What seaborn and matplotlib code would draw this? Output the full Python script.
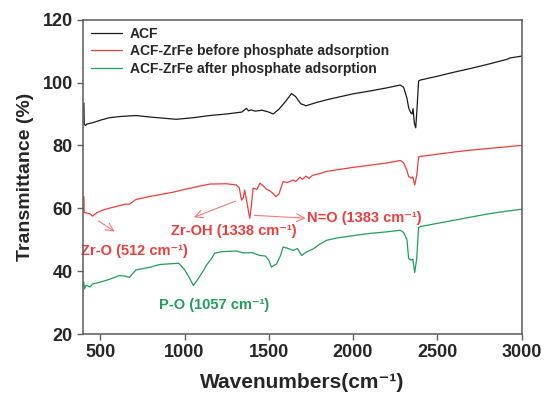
import matplotlib
matplotlib.use("Agg")
import matplotlib.pyplot as plt
import seaborn as sns
import pandas as pd

# ---------------- data (wavenumber, transmittance) ----------------
acf = [(403, 93.5), (405, 86.8), (412, 86.3), (420, 86.8), (454, 87.2), (500, 88.0),
       (553, 88.8), (620, 89.2), (712, 89.5), (800, 89.0), (951, 88.3), (1050, 88.8),
       (1149, 89.5), (1250, 90.0), (1340, 90.6), (1367, 91.8), (1380, 91.0), (1395, 91.3),
       (1420, 90.9), (1460, 91.2), (1500, 90.6), (1526, 90.0), (1560, 91.5), (1600, 94.0),
       (1635, 96.5), (1660, 95.5), (1690, 93.2), (1704, 93.0), (1720, 92.6), (1744, 93.0),
       (1780, 93.6), (1843, 94.5), (1900, 95.2), (2000, 96.4), (2100, 97.3), (2200, 98.3),
       (2280, 99.2), (2300, 98.5), (2320, 95.0), (2330, 92.0), (2342, 90.4), (2350, 90.0),
       (2356, 91.7), (2364, 87.0), (2372, 85.6), (2380, 92.0), (2389, 100.5), (2400, 100.8),
       (2500, 102.0), (2600, 103.3), (2700, 104.5), (2800, 105.8), (2915, 107.4),
       (2930, 107.8), (3000, 108.4)]

before = [(403, 63.7), (405, 58.6), (412, 58.6), (440, 58.2), (454, 57.5), (480, 58.6),
          (514, 59.4), (560, 60.1), (650, 61.3), (673, 61.3), (712, 62.8), (800, 63.8),
          (931, 65.1), (1050, 66.6), (1149, 67.7), (1250, 67.8), (1308, 67.4), (1325, 66.5),
          (1338, 62.6), (1350, 63.5), (1357, 65.8), (1370, 62.0), (1387, 56.8), (1395, 60.0),
          (1407, 66.4), (1430, 66.0), (1447, 68.0), (1470, 67.0), (1486, 66.1), (1510, 65.4),
          (1530, 64.5), (1542, 63.7), (1560, 64.5), (1585, 68.5), (1610, 68.2), (1645, 69.0),
          (1660, 68.5), (1685, 69.9), (1700, 69.2), (1720, 70.2), (1740, 69.5), (1760, 70.5),
          (1800, 71.0), (1843, 71.7), (1900, 72.2), (2000, 73.0), (2100, 73.7), (2200, 74.4),
          (2280, 75.2), (2300, 74.5), (2320, 72.0), (2330, 70.1), (2345, 69.6), (2355, 70.0),
          (2366, 67.4), (2378, 70.5), (2389, 76.3), (2400, 76.5), (2500, 77.2), (2600, 77.9),
          (2700, 78.5), (2800, 79.0), (2900, 79.5), (3000, 80.0)]

after = [(403, 36.4), (406, 34.3), (415, 35.5), (440, 35.0), (454, 35.9), (500, 36.5),
         (560, 37.5), (613, 38.6), (650, 38.4), (673, 38.0), (712, 40.4), (800, 41.3),
         (851, 42.1), (900, 42.3), (966, 42.5), (1000, 40.5), (1030, 37.8), (1053, 35.4),
         (1080, 37.5), (1110, 40.0), (1129, 41.8), (1160, 44.0), (1179, 45.7), (1220, 46.2),
         (1308, 46.4), (1350, 45.8), (1400, 45.9), (1447, 45.0), (1480, 44.8), (1500, 43.5),
         (1516, 41.3), (1530, 41.8), (1546, 42.3), (1570, 45.0), (1585, 47.7), (1610, 47.3),
         (1645, 46.6), (1670, 47.2), (1695, 45.0), (1720, 46.0), (1764, 47.1), (1800, 48.5),
         (1843, 49.8), (1900, 50.5), (2000, 51.3), (2100, 52.0), (2200, 52.5), (2280, 53.0),
         (2300, 52.3), (2320, 50.0), (2330, 44.0), (2345, 43.5), (2355, 43.8), (2366, 39.6),
         (2378, 44.0), (2389, 53.9), (2400, 54.2), (2500, 55.2), (2600, 56.2), (2700, 57.2),
         (2800, 58.2), (2900, 59.0), (3000, 59.7)]

series_names = ["ACF", "ACF-ZrFe before phosphate adsorption", "ACF-ZrFe after phosphate adsorption"]
series_data = [acf, before, after]
x_ticks = [500, 1000, 1500, 2000, 2500, 3000]
y_ticks = [20, 40, 60, 80, 100, 120]

# ---------------- build long table ----------------
rows = []
for name, pts in zip(series_names, series_data):
    for i, (w, t) in enumerate(pts):
        rows.append({"wn": w, "T": t, "series": name, "order": i})
df = pd.DataFrame(rows)

sns.set_theme(style="white")
plt.rcParams["font.family"] = ["Liberation Sans", "DejaVu Sans"]
plt.rcParams["font.weight"] = "bold"

red = "#f23c3c"
green = "#1f9e5c"
palette = {series_names[0]: "#1a1a1a", series_names[1]: red, series_names[2]: green}

fig = plt.figure(figsize=(5.45, 4.01), dpi=100)
ax = fig.add_axes([0.153, 0.167, 0.804, 0.784])

sns.lineplot(data=df, x="wn", y="T", hue="series", palette=palette, sort=False,
             estimator=None, linewidth=0.9, ax=ax, hue_order=series_names)

ax.set_xlim(400, 3000)
ax.set_ylim(20, 120)
ax.set_xticks(x_ticks)
ax.set_yticks(y_ticks)
ax.tick_params(axis="both", which="both", direction="out", length=4, width=1,
               color="#606060", labelsize=13, bottom=True, left=True, top=False, right=False)
for lab in ax.get_xticklabels() + ax.get_yticklabels():
    lab.set_fontweight("bold")
for s in ax.spines.values():
    s.set_visible(True)
    s.set_color("#5a5a5a")
    s.set_linewidth(1.1)
    s.set_zorder(5)

ax.set_xlabel("Wavenumbers(cm\u207b\u00b9)", fontsize=15, fontweight="bold", labelpad=8)
ax.set_ylabel("Transmittance (%)", fontsize=14, fontweight="bold", labelpad=6)

leg = ax.legend(loc="upper left", bbox_to_anchor=(0.005, 0.995), frameon=False, fontsize=10,
                handlelength=2.2, borderaxespad=0.0, labelspacing=0.25, handletextpad=0.6)
for t in leg.get_texts():
    t.set_fontweight("bold")

arrow_kw = dict(arrowstyle="->", color="#f47a7a", lw=0.8, mutation_scale=14)
ax.annotate("", xy=(600, 52.1), xytext=(475, 56.5), arrowprops=arrow_kw)
ax.annotate("", xy=(1040, 56.8), xytext=(1318, 62.6), arrowprops=arrow_kw)
ax.annotate("", xy=(1735, 56.8), xytext=(1398, 57.8), arrowprops=arrow_kw)

ax.text(700, 46.3, "Zr-O (512 cm\u207b\u00b9)", color=red, fontsize=10.5,
        fontweight="bold", ha="center", va="center")
ax.text(1290, 52.7, "Zr-OH (1338 cm\u207b\u00b9)", color=red, fontsize=10.5,
        fontweight="bold", ha="center", va="center")
ax.text(2068, 57.0, "N=O (1383 cm\u207b\u00b9)", color=red, fontsize=10.5,
        fontweight="bold", ha="center", va="center")
ax.text(1177, 29.3, "P-O (1057 cm\u207b\u00b9)", color=green, fontsize=10.5,
        fontweight="bold", ha="center", va="center")

fig.savefig("out.png", dpi=100)
